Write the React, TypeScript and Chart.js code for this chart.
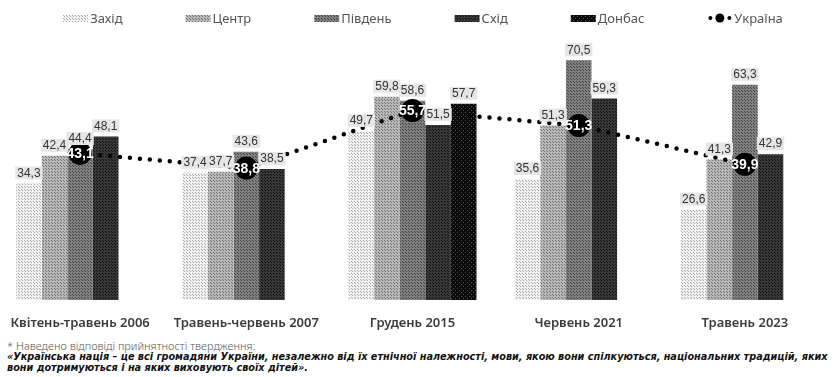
import React, { useEffect, useRef } from "react";
import { Chart, registerables } from "chart.js";

Chart.register(...registerables);

const categories = [
  "Квітень-травень 2006",
  "Травень-червень 2007",
  "Грудень 2015",
  "Червень 2021",
  "Травень 2023",
];
const zakhid = [34.3, 37.4, 49.7, 35.6, 26.6];
const tsentr = [42.4, 37.7, 59.8, 51.3, 41.3];
const pivden = [44.4, 43.6, 58.6, 70.5, 63.3];
const skhid = [48.1, 38.5, 51.5, 59.3, 42.9];
const donbas = [null, null, 57.7, null, null];
const ukraina = [43.1, 38.8, 55.7, 51.3, 39.9];

const seriesNames = ["Захід", "Центр", "Південь", "Схід", "Донбас", "Україна"];

const FONT = "'Noto Sans', 'DejaVu Sans', sans-serif";
const NUMFONT = "'Liberation Sans', Arial, sans-serif";

function makePattern(bg: string, dot: string, size: number, dots: number[][]) {
  const c = document.createElement("canvas");
  c.width = size;
  c.height = size;
  const g = c.getContext("2d")!;
  g.fillStyle = bg;
  g.fillRect(0, 0, size, size);
  g.fillStyle = dot;
  dots.forEach(([x, y]) => g.fillRect(x, y, 1, 1));
  const ctx = document.createElement("canvas").getContext("2d")!;
  return ctx.createPattern(c, "repeat") as CanvasPattern;
}

const fmt = (v: number) => v.toFixed(1).replace(".", ",");

export default function App() {
  const ref = useRef<HTMLCanvasElement>(null);

  useEffect(() => {
    const pats = [
      makePattern("#f2f2f2", "#a8a8a8", 3, [[0, 0], [1, 1]]),
      makePattern("#b8b8b8", "#707070", 3, [[0, 0], [1, 1]]),
      makePattern("#808080", "#444444", 3, [[0, 0], [1, 1]]),
      makePattern("#383838", "#101010", 3, [[0, 0], [1, 1]]),
      makePattern("#0a0a0a", "#555555", 4, [[0, 0], [2, 2]]),
    ];
    const barData = [zakhid, tsentr, pivden, skhid, donbas];

    const valueLabels = {
      id: "valueLabels",
      afterDatasetsDraw(chart: any) {
        const ctx = chart.ctx;
        const idx = chart.data.datasets.findIndex((d: any) => d.type === "line");
        const lmeta = chart.getDatasetMeta(idx);
        ctx.save();
        ctx.font = `bold 14px ${NUMFONT}`;
        ctx.textAlign = "center";
        ctx.textBaseline = "middle";
        ctx.fillStyle = "#ffffff";
        lmeta.data.forEach((el: any, i: number) => {
          ctx.fillText(fmt(chart.data.datasets[idx].data[i]), el.x, el.y + 1);
        });
        ctx.restore();

        ctx.save();
        ctx.font = `12px ${NUMFONT}`;
        ctx.textAlign = "center";
        ctx.textBaseline = "middle";
        chart.data.datasets.forEach((ds: any, di: number) => {
          if (ds.type === "line") return;
          const meta = chart.getDatasetMeta(di);
          meta.data.forEach((el: any, i: number) => {
            const v = ds.data[i];
            if (v == null) return;
            const t = fmt(v);
            const w = ctx.measureText(t).width + 4;
            const h = 13;
            const bottom = el.y - 4;
            ctx.fillStyle = "#e6e6e6";
            ctx.fillRect(el.x - w / 2, bottom - h, w, h);
            ctx.fillStyle = "#333333";
            ctx.fillText(t, el.x, bottom - h / 2 + 0.5);
          });
        });
        ctx.restore();
      },
    };

    const legendPlugin = {
      id: "customLegend",
      afterDraw(chart: any) {
        const ctx = chart.ctx;
        ctx.save();
        ctx.font = `13px ${FONT}`;
        ctx.textBaseline = "middle";
        const sw = 25;
        const gapText = 2;
        const gapItem = 63;
        const widths = seriesNames.map((n) => sw + gapText + ctx.measureText(n).width);
        const total = widths.reduce((a, b) => a + b, 0) + gapItem * (seriesNames.length - 1);
        let x = 426 - total / 2;
        const y = 18;
        seriesNames.forEach((n, i) => {
          if (i < 5) {
            ctx.fillStyle = pats[i];
            ctx.fillRect(x, y - 3, sw, 7);
          } else {
            ctx.fillStyle = "#000";
            [[x + 3, 2], [x + 12.5, 4.5], [x + 22, 2]].forEach(([cx, r]) => {
              ctx.beginPath();
              ctx.arc(cx, y, r, 0, Math.PI * 2);
              ctx.fill();
            });
          }
          ctx.fillStyle = "#555555";
          ctx.fillText(n, x + sw + gapText, y + 1);
          x += widths[i] + gapItem;
        });
        ctx.restore();
      },
    };

    const chart = new Chart(ref.current!, {
      type: "bar",
      data: {
        labels: categories,
        datasets: [
          ...barData.map((d, i) => ({
            type: "bar" as const,
            label: seriesNames[i],
            data: d as any,
            backgroundColor: pats[i],
            borderWidth: 0,
            order: 2,
            categoryPercentage: 0.77,
            barPercentage: 1.0,
          })),
          {
            type: "line" as const,
            label: seriesNames[5],
            data: ukraina,
            borderColor: "#000000",
            borderWidth: 4.5,
            borderDash: [0, 10],
            borderCapStyle: "round",
            backgroundColor: "#000000",
            pointRadius: 11.5,
            pointBorderWidth: 0,
            pointBackgroundColor: "#000000",
            tension: 0,
            order: 0,
            clip: false as any,
          } as any,
        ],
      },
      options: {
        responsive: false,
        animation: false,
        layout: { autoPadding: false, padding: { top: 28, left: 0, right: 0, bottom: 0 } },
        plugins: {
          legend: { display: false },
          tooltip: { enabled: false },
        },
        scales: {
          x: {
            grid: { display: false, drawTicks: false },
            border: { display: false },
            ticks: {
              padding: 0,
              color: "#3c3c3c",
              font: { family: FONT, size: 13, weight: 600 as any, lineHeight: 3.6 },
              maxRotation: 0,
              autoSkip: false,
            },
            afterFit: (s: any) => {
              s.height = 38;
            },
          },
          y: { display: false, min: 0, max: 80 },
        },
      },
      plugins: [valueLabels, legendPlugin],
    });
    return () => chart.destroy();
  }, []);

  return (
    <div style={{ position: "absolute", left: 0, top: 0, width: 836, height: 377, background: "#fff", overflow: "hidden" }}>
      <canvas ref={ref} width={831} height={338} style={{ position: "absolute", left: -3, top: 0 }} />
      <div style={{ position: "absolute", left: 7, top: 338, fontFamily: FONT, fontSize: 11, color: "#555", fontWeight: 300, whiteSpace: "nowrap" }}>
        * Наведено відповіді прийнятності твердження:
      </div>
      <div style={{ position: "absolute", left: 7, top: 351, fontFamily: "'DejaVu Sans', sans-serif", fontSize: 9.7, color: "#111", fontWeight: 700, fontStyle: "italic", whiteSpace: "nowrap", lineHeight: "11px" }}>
        «Українська нація – це всі громадяни України, незалежно від їх етнічної належності, мови, якою вони спілкуються, національних традицій, яких
        <br />
        вони дотримуються і на яких виховують своїх дітей».
      </div>
    </div>
  );
}
